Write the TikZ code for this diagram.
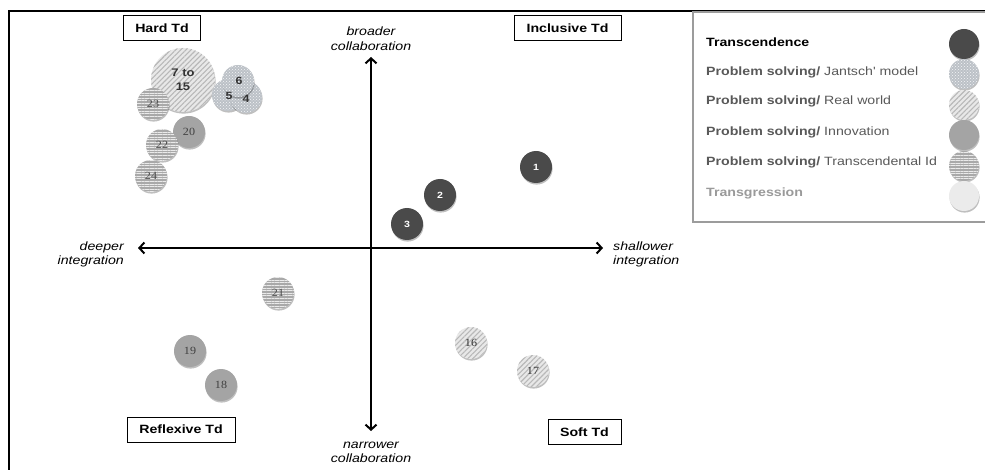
\documentclass[tikz,border=0pt]{standalone}
\usepackage{fontspec}
\setmainfont{Liberation Sans}
\newfontfamily\lsans[FakeStretch=1.18]{Liberation Sans}
\newfontfamily\lserif[FakeStretch=1.1]{Liberation Serif}
\usetikzlibrary{arrows.meta,patterns,patterns.meta,shadows}
\definecolor{dkc}{HTML}{4A4A4A}
\definecolor{janc}{HTML}{BCC1C7}
\definecolor{rwc}{HTML}{E8E8E8}
\definecolor{innc}{HTML}{A4A4A4}
\definecolor{tidc}{HTML}{A9A9A9}
\definecolor{trgc}{HTML}{EBEBEB}
\definecolor{psgray}{HTML}{595959}
\definecolor{trgtext}{HTML}{9A9A9A}
\definecolor{lgborder}{HTML}{9C9C9C}
\tikzset{
  quad/.style={draw=black, line width=1pt, minimum height=25pt, inner sep=0pt,
    font=\lsans\bfseries\fontsize{12}{14}\selectfont},
  axislabel/.style={font=\lsans\itshape\fontsize{12}{14.5}\selectfont, inner sep=0pt},
  axisline/.style={line width=2.2pt, {Straight Barb[length=5pt,width=11pt,line width=2pt]}-{Straight Barb[length=5pt,width=11pt,line width=2pt]}},
  shd/.style={drop shadow={shadow xshift=0.6pt,shadow yshift=-1.6pt,opacity=0.25,fill=black}},
  bub/.style={circle, minimum size=32pt, inner sep=0pt, shd},
  dk/.style={bub, fill=dkc, text=white, font=\lsans\bfseries\fontsize{9}{10}\selectfont},
  jan/.style={bub, fill=janc, postaction={pattern=crosshatch dots, pattern color=white!85!janc}},
  jantext/.style={inner sep=0pt, text=black!80, font=\lsans\bfseries\fontsize{10.5}{12}\selectfont},
  rw/.style={bub, fill=rwc, postaction={pattern={Lines[angle=45,distance=3.6pt,line width=1.1pt]}, pattern color=black!28},
    text=black!80, font=\lserif\fontsize{11}{12}\selectfont},
  inn/.style={bub, fill=innc, text=black!75, font=\lserif\fontsize{11}{12}\selectfont},
  tid/.style={bub, fill=tidc, postaction={pattern={Lines[angle=0,distance=2.6pt,line width=0.7pt]}, pattern color=white!75!tidc},
    text=black!70, font=\lserif\fontsize{11}{12}\selectfont},
  lgc/.style={circle, minimum size=30pt, inner sep=0pt, shd},
  lgtext/.style={anchor=west, inner sep=0pt, font=\lsans\fontsize{12}{14}\selectfont},
}
\begin{document}
\begin{tikzpicture}[x=1pt,y=-1pt]
\useasboundingbox (0,0) rectangle (985,470);
\fill[white] (0,0) rectangle (985,470);
% outer frame
\coordinate (frTL) at (8.5,11);
\coordinate (frTR) at (990,11);
\coordinate (frBL) at (8.5,475);
\draw[line width=2pt, line cap=rect] (frBL) -- (frTL) -- (frTR);

% legend box
\coordinate (lgTL) at (693,12);
\coordinate (lgBR) at (995,222);
\draw[lgborder, line width=1.4pt] (lgTL) rectangle (lgBR);

% axes
\coordinate (axT) at (371,57);
\coordinate (axB) at (371,431);
\coordinate (axL) at (138,248);
\coordinate (axR) at (603,248);
\draw[axisline] (axB) -- (axT);
\draw[axisline] (axL) -- (axR);

% axis labels
\node[axislabel, align=center] (lbroad) at (371,38.5) {broader\\collaboration};
\node[axislabel, align=center] (lnarrow) at (371,452.5) {narrower\\collaboration};
\node[axislabel, align=right, anchor=east] (ldeep) at (124,254.5) {deeper\\integration};
\node[axislabel, align=left, anchor=west] (lshallow) at (613,254.5) {shallower\\integration};

% quadrant labels
\node[quad, minimum width=77pt] (qhard) at (162,28.5) {Hard Td};
\node[quad, minimum width=107pt] (qincl) at (567.5,28.5) {Inclusive Td};
\node[quad, minimum width=108pt] (qrefl) at (181,429.5) {Reflexive Td};
\node[quad, minimum width=73pt] (qsoft) at (584.5,432) {Soft Td};

% Hard Td cluster
\node[rw, minimum size=64pt, font=\lsans\bfseries\fontsize{11}{14}\selectfont, align=center] (c715) at (183,80) {7 to\\15};
\node[jan] (c5) at (228,95) {};
\node[jan] (c4) at (246,97) {};
\node[jan] (c6) at (238,81) {};
\node[jantext] (n6) at (239,81) {6};
\node[jantext] (n5) at (229,96) {5};
\node[jantext] (n4) at (246,98.5) {4};
\node[tid] (c23) at (153,104) {23};
\node[inn] (c20) at (189,132) {20};
\node[tid] (c22) at (162,145) {22};
\node[tid] (c24) at (151,176) {24};

% Inclusive Td
\node[dk] (c1) at (536,167) {1};
\node[dk] (c2) at (440,195) {2};
\node[dk] (c3) at (407,224) {3};

% Reflexive Td
\node[tid] (c21) at (278,293) {21};
\node[inn] (c19) at (190,351) {19};
\node[inn] (c18) at (221,385) {18};

% Soft Td
\node[rw] (c16) at (471,343) {16};
\node[rw] (c17) at (533,371) {17};

% legend
\node[lgtext] (t1) at (706,42) {\bfseries Transcendence};
\node[lgtext, text=psgray] (t2) at (706,72) {\textbf{Problem solving/} Jantsch' model};
\node[lgtext, text=psgray] (t3) at (706,101) {\textbf{Problem solving/} Real world};
\node[lgtext, text=psgray] (t4) at (706,132) {\textbf{Problem solving/} Innovation};
\node[lgtext, text=psgray] (t5) at (706,162) {\textbf{Problem solving/} Transcendental Id};
\node[lgtext, text=trgtext] (t6) at (706,193) {\bfseries Transgression};

\node[lgc, fill=dkc] (l1) at (964,44) {};
\node[lgc, fill=janc, postaction={pattern=crosshatch dots, pattern color=white!85!janc}] (l2) at (964,74) {};
\node[lgc, fill=rwc, postaction={pattern={Lines[angle=45,distance=3.6pt,line width=1.1pt]}, pattern color=black!28}] (l3) at (964,105) {};
\node[lgc, fill=innc] (l4) at (964,135) {};
\node[lgc, fill=tidc, postaction={pattern={Lines[angle=0,distance=2.6pt,line width=0.7pt]}, pattern color=white!75!tidc}] (l5) at (964,166) {};
\node[lgc, fill=trgc] (l6) at (964,196) {};
\end{tikzpicture}
\end{document}
